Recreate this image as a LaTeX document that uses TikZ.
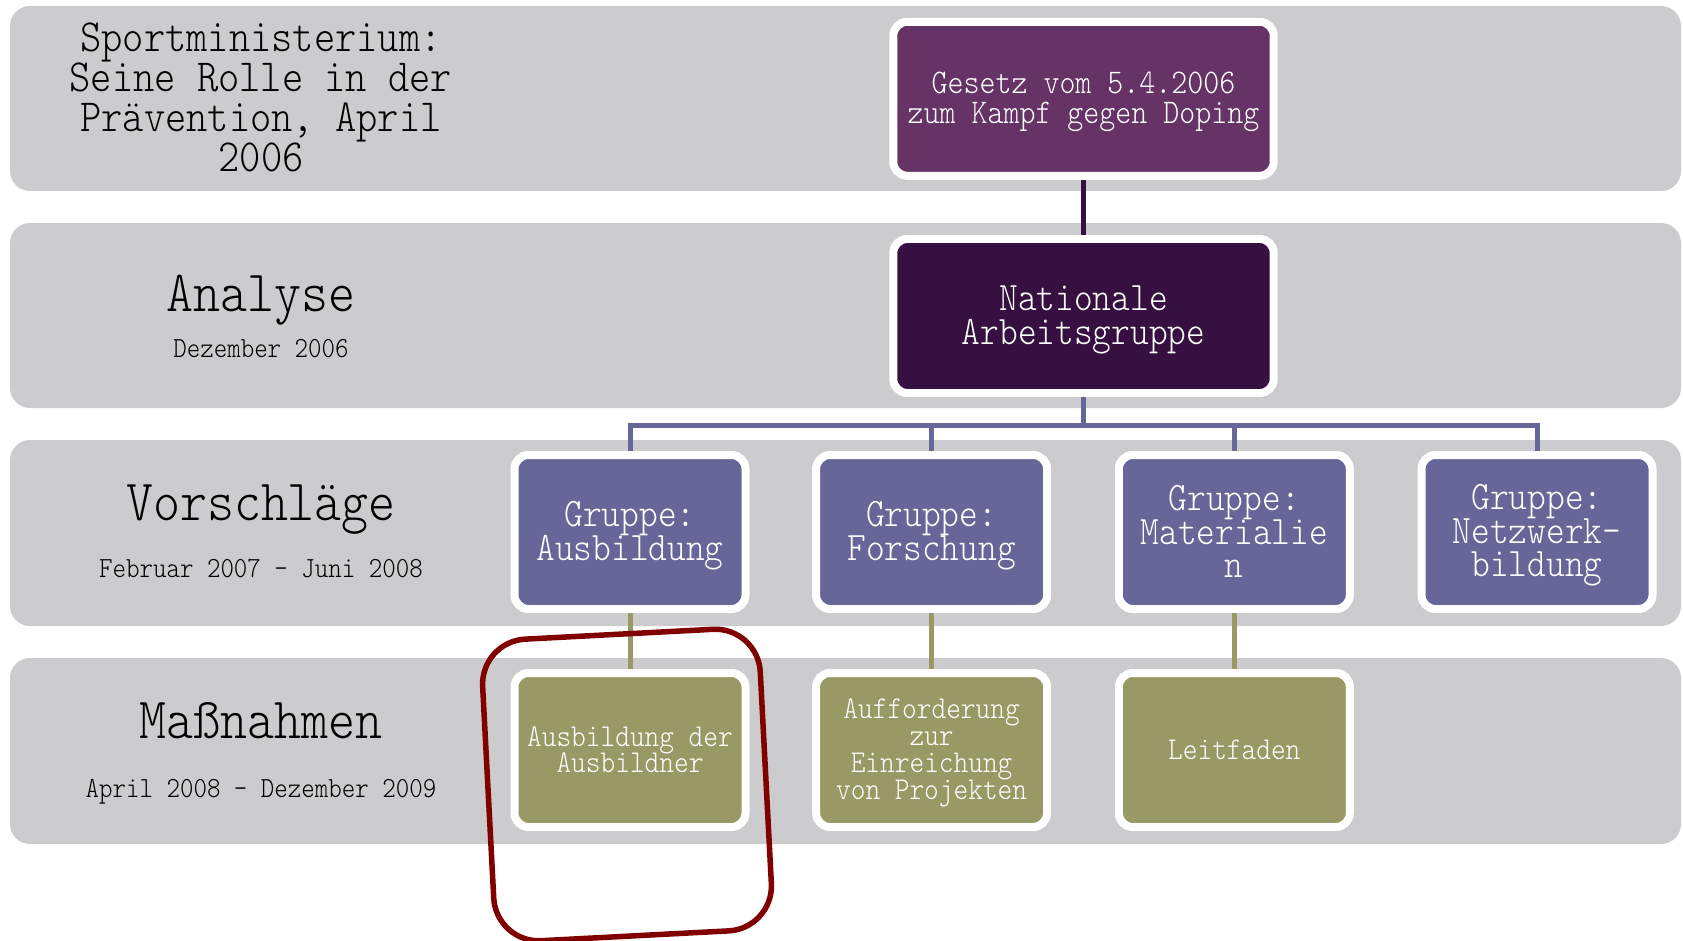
\documentclass[tikz,border=0pt]{standalone}
\usepackage{fontspec}
\newfontfamily\refmono[FakeStretch=0.88]{lmmonolt10-regular.otf}
\definecolor{bandgray}{RGB}{204,204,206}
\definecolor{lawpurple}{RGB}{102,51,102}
\definecolor{nagpurple}{RGB}{54,16,64}
\definecolor{grpblue}{RGB}{102,102,153}
\definecolor{measolive}{RGB}{153,153,102}
\definecolor{hlred}{RGB}{128,0,0}
\newcommand\topst{\rule{0pt}{0.8em}}
\newcommand\botst{\rule[-0.2em]{0pt}{0.2em}}
\newcommand\tightls{\lineskiplimit-100pt\relax}
\begin{document}
\begin{tikzpicture}[x=1pt,y=-1pt,
  band/.style={fill=bandgray, rounded corners=20pt},
  card/.style={draw=white, line width=8pt, rounded corners=14pt, text=white,
    align=center, inner sep=0pt, outer sep=4pt, minimum height=154pt},
  lawbox/.style={card, fill=lawpurple, minimum width=380.4pt,
    font={\refmono\fontsize{34.6pt}{30pt}\selectfont\tightls}},
  nagbox/.style={card, fill=nagpurple, minimum width=380.4pt,
    font={\refmono\fontsize{40.5pt}{34pt}\selectfont\tightls}},
  grpbox/.style={card, fill=grpblue, minimum width=231pt,
    font={\refmono\fontsize{40.5pt}{33.5pt}\selectfont\tightls}},
  measbox/.style={card, fill=measolive, minimum width=231pt,
    font={\refmono\fontsize{31.8pt}{26.8pt}\selectfont\tightls}},
  titlelabel/.style={align=center, inner sep=0pt, text=black,
    font={\refmono\fontsize{46pt}{40pt}\selectfont\tightls}},
  biglabel/.style={inner sep=0pt, anchor=base, text=black,
    font={\refmono\fontsize{58.4pt}{60pt}\selectfont}},
  smalllabel/.style={inner sep=0pt, anchor=base, text=black,
    font={\refmono\fontsize{29.2pt}{30pt}\selectfont}},
  lawlink/.style={draw=nagpurple, line width=5pt},
  grplink/.style={draw=grpblue, line width=5pt},
  measlink/.style={draw=measolive, line width=5pt},
  hlbox/.style={draw=hlred, line width=5.5pt, rounded corners=45pt,
    minimum width=278pt, minimum height=302pt, inner sep=0pt}
]
\useasboundingbox (0,0) rectangle (1683,941);
% bands
\fill[band] (10,6) rectangle (1681,191);
\fill[band] (10,223) rectangle (1681,408);
\fill[band] (10,440) rectangle (1681,626);
\fill[band] (10,658) rectangle (1681,844);
% left labels
\node[titlelabel] (ttl) at (261,97) {Sportministerium:\\Seine Rolle in der\\Prävention, April\\2006};
\node[biglabel] (l2) at (261,311) {Analyse};
\node[smalllabel] (d2) at (261,357) {Dezember 2006};
\node[biglabel] (l3) at (261,520) {Vorschläge};
\node[smalllabel] (d3) at (261,577) {Februar 2007 – Juni 2008};
\node[biglabel] (l4) at (261,738) {Maßnahmen};
\node[smalllabel] (d4) at (261,797) {April 2008 – Dezember 2009};
% boxes
\node[lawbox] (law) at (1083.5,98.8) {\topst Gesetz vom 5.4.2006\\zum Kampf gegen Doping\botst};
\node[nagbox] (nag) at (1083.5,316) {\topst Nationale\\Arbeitsgruppe\botst};
\node[grpbox] (g1) at (630,532) {\topst Gruppe:\\Ausbildung\botst};
\node[grpbox] (g2) at (931.6,532) {\topst Gruppe:\\Forschung\botst};
\node[grpbox] (g3) at (1234.3,532) {\topst Gruppe:\\Materialie\\n\botst};
\node[grpbox] (g4) at (1537,532) {\topst Gruppe:\\Netzwerk-\\bildung\botst};
\node[measbox] (m1) at (630,750) {\topst Ausbildung der\\Ausbildner\botst};
\node[measbox] (m2) at (931.6,750) {\topst Aufforderung\\zur\\Einreichung\\von Projekten\botst};
\node[measbox] (m3) at (1234.3,750) {\topst Leitfaden\botst};
% connectors
\coordinate (bar) at (1083.5,425);
\draw[lawlink] (law) -- (nag);
\draw[grplink] (nag.south) -- (bar);
\draw[grplink] (g1.north) |- (bar);
\draw[grplink] (g2.north) |- (bar);
\draw[grplink] (g3.north) |- (bar);
\draw[grplink] (g4.north) |- (bar);
\draw[measlink] (g1) -- (m1);
\draw[measlink] (g2) -- (m2);
\draw[measlink] (g3) -- (m3);
% highlight
\node[hlbox, rotate=3] (hl) at (627,785) {};
\end{tikzpicture}
\end{document}
